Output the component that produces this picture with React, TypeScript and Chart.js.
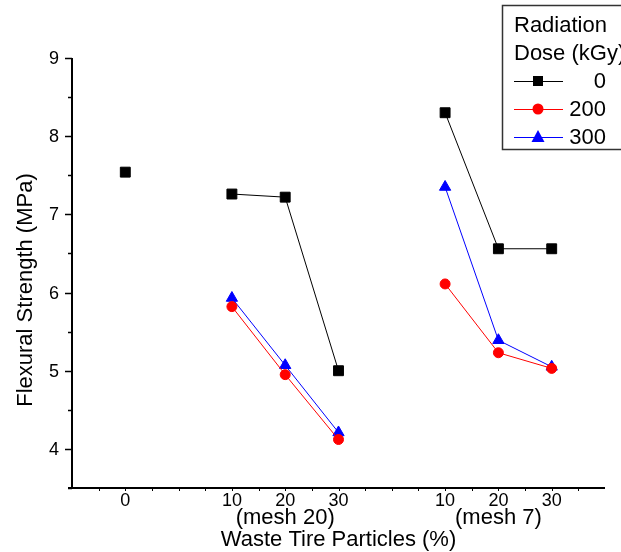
import React, { useEffect, useRef } from "react";
import { Chart, registerables } from "chart.js";

Chart.register(...registerables);

const xPositions = [0, 20, 30, 40, 60, 70, 80];
const xTickLabels = ["0", "10", "20", "30", "10", "20", "30"];
const groupLabels = ["(mesh 20)", "(mesh 7)"];
const groupLabelPositions = [30, 70];
const seriesNames = ["0", "200", "300"];
const dose0 = [7.54, 7.26, 7.22, 5.0, 8.3, 6.56, 6.56];
const dose200 = [null, 5.82, 4.95, 4.12, 6.11, 5.23, 5.03];
const dose300 = [null, 5.93, 5.07, 4.21, 7.35, 5.39, 5.05];
const yTicks = [4, 5, 6, 7, 8, 9];

const FONT = "'Liberation Sans', Arial, sans-serif";

function buildData(vals: (number | null)[]) {
  const out: { x: number; y: number | null }[] = [];
  vals.forEach((v, i) => {
    if (v === null) return;
    // break lines between groups
    if (i === 1 || i === 4) out.push({ x: xPositions[i] - 10, y: null });
    out.push({ x: xPositions[i], y: v });
  });
  return out;
}

const decorPlugin = {
  id: "decor",
  afterDraw(chart: any) {
    const ctx = chart.ctx as CanvasRenderingContext2D;
    const xs = chart.scales.x;
    const ys = chart.scales.y;
    const { left, right, top, bottom } = chart.chartArea;
    ctx.save();
    ctx.strokeStyle = "#000";
    ctx.fillStyle = "#000";
    // axes
    ctx.lineWidth = 2;
    ctx.beginPath();
    ctx.moveTo(left, top);
    ctx.lineTo(left, bottom);
    ctx.moveTo(left - 4, bottom);
    ctx.lineTo(right, bottom);
    ctx.stroke();
    // y ticks
    ctx.lineWidth = 1.5;
    ctx.beginPath();
    for (let v = 3.5; v <= 9.001; v += 0.5) {
      const y = Math.round(ys.getPixelForValue(v)) + 0.5;
      const major = Math.abs(v - Math.round(v)) < 0.01;
      ctx.moveTo(left, y);
      ctx.lineTo(left - (major ? 7 : 4), y);
    }
    ctx.stroke();
    // x minor ticks
    ctx.lineWidth = 1;
    ctx.beginPath();
    for (let v = -5; v < 90; v += 5) {
      const x = Math.round(xs.getPixelForValue(v)) + 0.5;
      ctx.moveTo(x, bottom);
      ctx.lineTo(x, bottom + 3);
    }
    ctx.stroke();
    // y labels
    ctx.font = `18px ${FONT}`;
    ctx.textAlign = "right";
    ctx.textBaseline = "middle";
    yTicks.forEach((v) => ctx.fillText(String(v), 59, ys.getPixelForValue(v) + 1));
    // x labels
    ctx.textAlign = "center";
    xPositions.forEach((p, i) => ctx.fillText(xTickLabels[i], xs.getPixelForValue(p), 501));
    // group labels
    ctx.font = `22px ${FONT}`;
    groupLabels.forEach((g, i) => ctx.fillText(g, xs.getPixelForValue(groupLabelPositions[i]), 518));
    ctx.fillText("Waste Tire Particles (%)", (left + right) / 2, 540);
    // y title
    ctx.save();
    ctx.translate(26, 290);
    ctx.rotate(-Math.PI / 2);
    ctx.fillText("Flexural Strength (MPa)", 0, 0);
    ctx.restore();
    // legend
    ctx.lineWidth = 1.5;
    ctx.strokeStyle = "#333";
    ctx.strokeRect(502.5, 5.5, 140, 144);
    ctx.fillStyle = "#000";
    ctx.textAlign = "left";
    ctx.fillText("Radiation", 514, 26);
    ctx.fillText("Dose (kGy)", 514, 54);
    const rows = [81, 109, 137];
    chart.data.datasets.forEach((ds: any, i: number) => {
      const y = rows[i];
      ctx.strokeStyle = ds.borderColor;
      ctx.lineWidth = 1;
      ctx.beginPath();
      ctx.moveTo(514, y + 0.5);
      ctx.lineTo(563, y + 0.5);
      ctx.stroke();
      ctx.fillStyle = ds.pointBackgroundColor;
      ctx.beginPath();
      if (ds.pointStyle === "rect") {
        ctx.rect(538 - 5, y - 5, 10, 10);
      } else if (ds.pointStyle === "circle") {
        ctx.arc(538, y, 5.5, 0, Math.PI * 2);
      } else {
        ctx.moveTo(538, y - 7);
        ctx.lineTo(544.5, y + 5);
        ctx.lineTo(531.5, y + 5);
        ctx.closePath();
      }
      ctx.fill();
      ctx.fillStyle = "#000";
      ctx.textAlign = "right";
      ctx.fillText(seriesNames[i], 606, y + 1);
    });
    ctx.restore();
  },
};

export default function App() {
  const ref = useRef<HTMLCanvasElement>(null);
  useEffect(() => {
    if (!ref.current) return;
    const chart = new Chart(ref.current, {
      type: "line",
      data: {
        datasets: [
          {
            label: seriesNames[0],
            data: buildData(dose0),
            borderColor: "#000000",
            backgroundColor: "#000000",
            pointBackgroundColor: "#000000",
            pointBorderColor: "#000000",
            pointStyle: "rect",
            pointRadius: 7,
            borderWidth: 1,
            spanGaps: false,
          },
          {
            label: seriesNames[1],
            data: buildData(dose200),
            borderColor: "#ff0000",
            backgroundColor: "#ff0000",
            pointBackgroundColor: "#ff0000",
            pointBorderColor: "#ff0000",
            pointStyle: "circle",
            pointRadius: 5,
            borderWidth: 1,
            spanGaps: false,
          },
          {
            label: seriesNames[2],
            data: buildData(dose300),
            borderColor: "#0000ff",
            backgroundColor: "#0000ff",
            pointBackgroundColor: "#0000ff",
            pointBorderColor: "#0000ff",
            pointStyle: "triangle",
            pointRadius: 6.5,
            borderWidth: 1,
            spanGaps: false,
          },
        ],
      },
      options: {
        responsive: false,
        animation: false,
        layout: { padding: { left: 72, top: 58, right: 16, bottom: 64 } },
        plugins: { legend: { display: false }, tooltip: { enabled: false } },
        scales: {
          x: { type: "linear", min: -10, max: 90, display: false },
          y: { type: "linear", min: 3.5, max: 9, display: false },
        },
      },
      plugins: [decorPlugin],
    });
    return () => chart.destroy();
  }, []);
  return (
    <div style={{ position: "fixed", left: 0, top: 0, width: 621, height: 552, background: "#fff" }}>
      <canvas ref={ref} width={621} height={552} />
    </div>
  );
}
